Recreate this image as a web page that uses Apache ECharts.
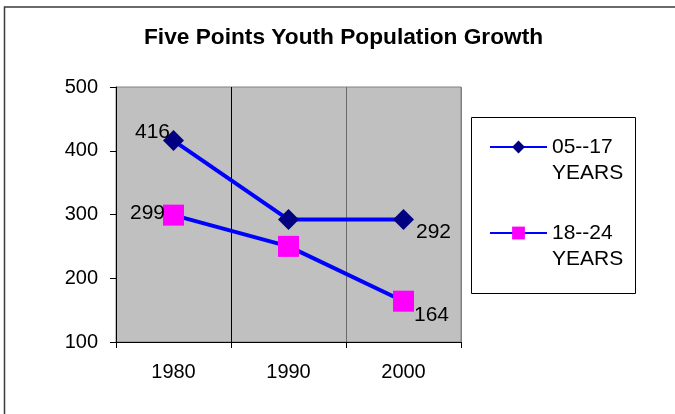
<!DOCTYPE html>
<html>
<head>
<meta charset="utf-8">
<script src="https://cdn.jsdelivr.net/npm/echarts@6/dist/echarts.min.js"></script>
<style>
html,body{margin:0;padding:0;background:#fff;}
#chart{width:675px;height:414px;}
</style>
</head>
<body>
<div id="chart"></div>
<script>
var categories = ['1980', '1990', '2000'];
var youth0517 = [416, 292, 292];
var youth1824 = [299, 250, 164];
var seriesNames = ['05--17\nYEARS', '18--24\nYEARS'];
var yTicks = [100, 200, 300, 400, 500];
var chartTitle = 'Five Points Youth Population Growth';

var FONT = '"Liberation Sans", Arial, sans-serif';

// which points carry a value label, and how it sits next to the marker
var labelCfg0517 = {0: {align: 'right', offset: [-3.5, -8.5]}, 2: {align: 'left', offset: [12.5, 12.5]}};
var labelCfg1824 = {0: {align: 'right', offset: [-8.5, -2]}, 2: {align: 'left', offset: [10.5, 14.5]}};

function buildData(values, cfg) {
  return values.map(function (v, i) {
    var c = cfg[i];
    if (!c) return {value: v, label: {show: false}};
    return {
      value: v,
      label: {
        show: true, position: 'inside', align: c.align, verticalAlign: 'middle',
        offset: c.offset, color: '#000', fontSize: 21, fontFamily: FONT
      }
    };
  });
}

var chart = echarts.init(document.getElementById('chart'), null, {renderer: 'canvas'});
chart.setOption({
  animation: false,
  backgroundColor: '#fff',
  title: {
    text: chartTitle, left: 144, top: 26, padding: 0,
    textStyle: {fontFamily: FONT, fontSize: 22.7, fontWeight: 'bold', color: '#000'}
  },
  graphic: [
    {type: 'rect', z: -10, silent: true, shape: {x: 4.5, y: 7, width: 700, height: 420},
     style: {fill: 'none', stroke: '#3a3a3a', lineWidth: 1.5}},
    {type: 'rect', z: -5, silent: true, shape: {x: 471.5, y: 117.5, width: 164, height: 176},
     style: {fill: '#fff', stroke: '#000', lineWidth: 1}}
  ],
  legend: {
    orient: 'vertical', left: 489, top: 108, padding: 0, itemGap: 8,
    itemWidth: 57, itemHeight: 16,
    data: seriesNames,
    // a blank leading line keeps the first text line level with the icon
    formatter: function (name) { return ' \n' + name; },
    textStyle: {fontFamily: FONT, fontSize: 21, color: '#000', lineHeight: 26}
  },
  grid: {
    left: 116, right: 214, top: 87, bottom: 72, containLabel: false,
    show: true, backgroundColor: '#C0C0C0', borderColor: '#808080', borderWidth: 1
  },
  xAxis: {
    type: 'category', data: categories, boundaryGap: true,
    axisLine: {lineStyle: {color: '#000', width: 1}},
    axisTick: {show: true, length: 6, lineStyle: {color: '#000'}},
    axisLabel: {fontFamily: FONT, fontSize: 20, color: '#000', margin: 20},
    splitLine: {show: true, lineStyle: {color: ['#000', '#000', '#6a6a6a', '#808080'], width: 1}}
  },
  yAxis: {
    type: 'value', min: yTicks[0], max: yTicks[yTicks.length - 1], interval: 100,
    axisLine: {show: true, lineStyle: {color: '#000', width: 1}},
    axisTick: {show: true, length: 6, lineStyle: {color: '#000'}},
    axisLabel: {fontFamily: FONT, fontSize: 20, color: '#000', margin: 18},
    splitLine: {show: false}
  },
  series: [
    {
      name: seriesNames[0], type: 'line', data: buildData(youth0517, labelCfg0517),
      symbol: 'diamond', symbolSize: 21,
      lineStyle: {color: '#0000FF', width: 4},
      itemStyle: {color: '#000080'}
    },
    {
      name: seriesNames[1], type: 'line', data: buildData(youth1824, labelCfg1824),
      symbol: 'rect', symbolSize: 21,
      lineStyle: {color: '#0000FF', width: 4},
      itemStyle: {color: '#FF00FF'}
    }
  ]
});
</script>
</body>
</html>
